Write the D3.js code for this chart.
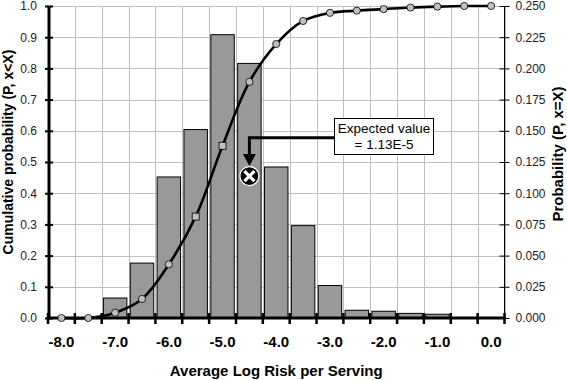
<!DOCTYPE html>
<html><head><meta charset="utf-8">
<script src="https://cdn.jsdelivr.net/npm/d3@7"></script>
<style>
html,body{margin:0;padding:0;background:#fff;}
svg{display:block;font-family:"Liberation Sans",Arial,sans-serif;}
</style></head>
<body>
<svg id="c" width="567" height="380"></svg>
<script>
// ---- data ----
const categories = ["-8.0","-7.5","-7.0","-6.5","-6.0","-5.5","-5.0","-4.5","-4.0","-3.5","-3.0","-2.5","-2.0","-1.5","-1.0","-0.5","0.0"];
const xTickLabels = ["-8.0","-7.0","-6.0","-5.0","-4.0","-3.0","-2.0","-1.0","0.0"];
const probability = [0,0,0.016,0.044,0.113,0.151,0.227,0.204,0.121,0.074,0.026,0.0062,0.0054,0.0037,0.003,0,0];
const cumulative = [0,0,0.017,0.061,0.172,0.325,0.552,0.757,0.878,0.952,0.978,0.985,0.99,0.995,0.998,1.0,1.0];
const markerShape = ["c","c","c","c","c","s","s","c","c","c","c","c","c","c","c","c","c"];
const leftTicks = [0,0.1,0.2,0.3,0.4,0.5,0.6,0.7,0.8,0.9,1.0];
const rightTicks = [0,0.025,0.05,0.075,0.1,0.125,0.15,0.175,0.2,0.225,0.25];
const expectedCategory = "-4.5";
const expectedCum = 0.455;
const calloutLines = ["Expected value","= 1.13E-5"];
const xTitle = "Average Log Risk per Serving";
const yLeftTitle = "Cumulative probability (P, x<X)";
const yRightTitle = "Probability (P, x=X)";

// ---- layout ----
const L = 48, R = 504.5, T = 6, B = 318;
const svg = d3.select("#c");
const x = d3.scaleBand().domain(categories).range([L, R]);
const yL = d3.scaleLinear().domain([0,1]).range([B, T]);
const yR = d3.scaleLinear().domain([0,0.25]).range([B, T]);
const bw = x.bandwidth();
const boundaries = d3.range(categories.length + 1).map(i => L + i * bw);

// gridlines
const grid = svg.append("g").attr("stroke","#c0c0c0").attr("stroke-width",1);
leftTicks.forEach(v => grid.append("line").attr("x1",L).attr("x2",R).attr("y1",Math.round(yL(v))+0.5).attr("y2",Math.round(yL(v))+0.5));
boundaries.forEach(b => grid.append("line").attr("x1",Math.round(b)+0.5).attr("x2",Math.round(b)+0.5).attr("y1",T).attr("y2",B));

// bars
const gap = 1.7;
svg.append("g").selectAll("rect").data(categories.map((c,i)=>({c,v:probability[i]})).filter(d=>d.v>0))
  .join("rect")
  .attr("x", d => x(d.c) + gap)
  .attr("width", bw - 2*gap)
  .attr("y", d => yR(d.v))
  .attr("height", d => B - yR(d.v))
  .attr("fill","#999999").attr("stroke","#000").attr("stroke-width",1);

// right axis
const rAxis = svg.append("g").attr("transform",`translate(${R},0)`)
  .call(d3.axisRight(yR).tickValues(rightTicks).tickFormat(d3.format(".3f")).tickSize(5).tickPadding(6));
rAxis.select(".domain").remove();
rAxis.append("line").attr("x1",0).attr("x2",0).attr("y1",T).attr("y2",B).attr("stroke","#000");
rAxis.selectAll(".tick line").attr("x1",-5).attr("stroke","#000");
rAxis.selectAll(".tick text").attr("font-size",12).attr("font-family","Liberation Sans, Arial").attr("fill","#222");

// left axis
const lAxis = svg.append("g").attr("transform",`translate(${L+1},0)`)
  .call(d3.axisLeft(yL).tickValues(leftTicks).tickFormat(d3.format(".1f")).tickSize(4).tickPadding(8));
lAxis.select(".domain").remove();
lAxis.append("line").attr("x1",0).attr("x2",0).attr("y1",T).attr("y2",B+1).attr("stroke","#000").attr("stroke-width",3);
lAxis.selectAll(".tick line").attr("x2",-4).attr("x1",4).attr("stroke","#000").attr("stroke-width",2);
lAxis.selectAll(".tick text").attr("font-size",12).attr("font-family","Liberation Sans, Arial").attr("fill","#222");

// cumulative curve
const pts = categories.map((c,i)=>({x:x(c)+bw/2, y:yL(cumulative[i]), s:markerShape[i]}));
svg.append("path").datum(pts)
  .attr("d", d3.line().x(d=>d.x).y(d=>d.y).curve(d3.curveCatmullRom.alpha(0.5)))
  .attr("fill","none").attr("stroke","#000").attr("stroke-width",2.6);

// x axis line and ticks
const xg = svg.append("g");
xg.append("line").attr("x1",L-1).attr("x2",R+1).attr("y1",B).attr("y2",B).attr("stroke","#000").attr("stroke-width",3);
boundaries.forEach(b => xg.append("line").attr("x1",b).attr("x2",b).attr("y1",B-5).attr("y2",B+6).attr("stroke","#000").attr("stroke-width",2.5));

// markers
const mk = svg.append("g");
pts.forEach(p => {
  if (p.s === "s") mk.append("rect").attr("x",p.x-3.5).attr("y",p.y-3.5).attr("width",7).attr("height",7)
      .attr("fill","#c0c0c0").attr("stroke","#000").attr("stroke-width",0.8);
  else mk.append("circle").attr("cx",p.x).attr("cy",p.y).attr("r",3.6)
      .attr("fill","#c0c0c0").attr("stroke","#000").attr("stroke-width",0.8);
});

// x tick labels
const xAxisG = svg.append("g").attr("transform",`translate(0,${B})`)
  .call(d3.axisBottom(x).tickValues(xTickLabels).tickSize(0).tickPadding(18));
xAxisG.select(".domain").remove();
xAxisG.selectAll(".tick text").attr("font-size",15).attr("font-weight","bold").attr("font-family","Liberation Sans, Arial").attr("fill","#000");

// expected value marker + arrow + callout
const ex = x(expectedCategory) + bw/2, ey = yL(expectedCum);
const boxX = 334.5, boxY = 118.5, boxW = 99, boxH = 36;
const lineY = 137.7;
svg.append("path").attr("d",`M${boxX},${lineY} H${ex} V${ey-20}`).attr("fill","none").attr("stroke","#000").attr("stroke-width",3);
svg.append("path").attr("d",`M${ex-6.5},${ey-22} L${ex+6.5},${ey-22} L${ex},${ey-10} Z`).attr("fill","#000");
svg.append("circle").attr("cx",ex).attr("cy",ey).attr("r",9.5).attr("fill","#000").attr("stroke","#fff").attr("stroke-width",1.2);
svg.append("path").attr("d",`M${ex-5},${ey-5} L${ex+5},${ey+5} M${ex+5},${ey-5} L${ex-5},${ey+5}`).attr("stroke","#fff").attr("stroke-width",3.2);
svg.append("rect").attr("x",boxX).attr("y",boxY).attr("width",boxW).attr("height",boxH).attr("fill","#fff").attr("stroke","#000").attr("stroke-width",1);
svg.append("text").attr("x",boxX+boxW/2).attr("y",boxY+14).attr("text-anchor","middle").attr("font-size",13.5).attr("fill","#000").text(calloutLines[0]);
svg.append("text").attr("x",boxX+boxW/2).attr("y",boxY+30).attr("text-anchor","middle").attr("font-size",13.5).attr("fill","#000").text(calloutLines[1]);

// titles
svg.append("text").attr("x",(L+R)/2).attr("y",376).attr("text-anchor","middle").attr("font-size",15).attr("font-weight","bold").text(xTitle);
svg.append("text").attr("transform",`translate(13,152) rotate(-90)`).attr("text-anchor","middle").attr("font-size",14).attr("font-weight","bold").text(yLeftTitle);
svg.append("text").attr("transform",`translate(563,154) rotate(-90)`).attr("text-anchor","middle").attr("font-size",15).attr("font-weight","bold").text(yRightTitle);
</script>
</body></html>
